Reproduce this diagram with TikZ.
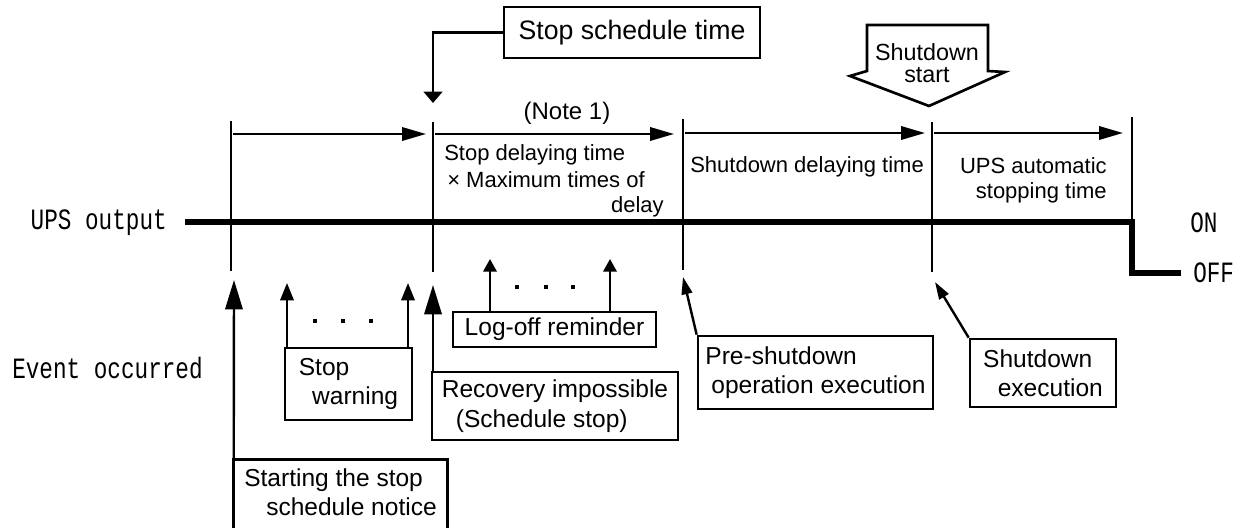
\documentclass[tikz,border=0pt]{standalone}
\usepackage{fontspec}
\setmainfont{Liberation Sans}
\setmonofont{Liberation Mono}
\usetikzlibrary{arrows.meta}

\begin{document}
\begin{tikzpicture}[x=0.75pt,y=-0.75pt,
  thinline/.style={line width=1.8pt},
  boxline/.style={line width=2pt},
  mainline/.style={line width=4.2pt,miter limit=10},
  harrow/.style={thinline,-{Triangle[length=18pt,width=10pt]}},
  downarrow/.style={thinline,-{Triangle[length=8.5pt,width=14pt]}},
  bigup/.style={thinline,-{Triangle[length=22pt,width=13pt]}},
  midup/.style={thinline,-{Triangle[length=13pt,width=10pt]}},
  smallup/.style={thinline,-{Triangle[length=9.5pt,width=10pt]}},
  diagarrow/.style={thinline,-{Triangle[length=13pt,width=8pt]}},
  evbox/.style={draw,boxline,align=left,inner sep=0pt,
    font=\fontsize{18.4}{22}\selectfont},
  spanlabel/.style={inner sep=0pt,font=\fontsize{16.5}{18.75}\selectfont},
  monolabel/.style={inner sep=0pt,font=\fontsize{17}{20}\ttfamily},
  dotmark/.style={fill=black}
]
\useasboundingbox (0,0) rectangle (1246,528);
\clip (0,0) rectangle (1246,528);

% ---- time marks on the output line ----
\coordinate (t1top) at (231,121);  \coordinate (t1bot) at (231,271);
\coordinate (t2top) at (433,122);  \coordinate (t2bot) at (433,272);
\coordinate (t3top) at (683,119);  \coordinate (t3bot) at (683,270);
\coordinate (t4top) at (932,122);  \coordinate (t4bot) at (932,272);
\coordinate (t5top) at (1132,117); \coordinate (t5on)  at (1132,222);
\foreach \i in {1,2,3,4} \draw[thinline] (t\i top) -- (t\i bot);
\draw[thinline] (t5top) -- (t5on);

% ---- UPS output level ----
\coordinate (outstart) at (185,222);
\coordinate (offcorner) at (1132,273);
\coordinate (offend) at (1181,273);
\draw[mainline] (outstart) -- (t5on) -- (offcorner) -- (offend);

\node[monolabel,anchor=east] (upsout) at (167,223) {\scalebox{1}[1.3]{UPS output}};
\node[monolabel,anchor=west] (evocc) at (12,368) {\scalebox{1}[1.3]{Event occurred}};
\node[monolabel,anchor=west] (onlbl) at (1190,223) {\scalebox{1}[1.3]{ON}};
\node[monolabel,anchor=west] (offlbl) at (1193,273) {\scalebox{1}[1.3]{OFF}};

% ---- span arrows ----
\coordinate (a1s) at (233,134);  \coordinate (a1e) at (426,134);
\coordinate (a2s) at (435,134);  \coordinate (a2e) at (674,134);
\coordinate (a3s) at (685,133);  \coordinate (a3e) at (925,133);
\coordinate (a4s) at (934,133);  \coordinate (a4e) at (1123,133);
\draw[harrow] (a1s) -- (a1e);
\draw[harrow] (a2s) -- (a2e);
\draw[harrow] (a3s) -- (a3e);
\draw[harrow] (a4s) -- (a4e);

\node[inner sep=0pt,font=\fontsize{18}{20}\selectfont] (note) at (567,113) {(Note 1)};
\node[spanlabel,anchor=west] (sdt1) at (444,155) {Stop delaying time};
\node[spanlabel,anchor=west] (sdt2) at (447,180) {× Maximum times of};
\node[spanlabel,anchor=east] (sdt3) at (664,207) {delay};
\node[spanlabel,anchor=west] (sdl) at (690,167) {Shutdown delaying time};
\node[spanlabel,anchor=east,align=right] (uas) at (1107,180) {UPS automatic\\stopping time};

% ---- stop schedule time ----
\node[draw,boxline,minimum width=192pt,minimum height=38.25pt,inner sep=0pt,
  font=\fontsize{20}{24}\selectfont] (sst) at (632,32.5) {Stop schedule time};
\coordinate (ssttip) at (433,103);
\draw[downarrow] (sst.west) -| (ssttip);

% ---- shutdown start block arrow ----
\draw[boxline,line join=miter] (867,25) -- (988,25) -- (988,71) -- (1005,72)
  -- (929,106) -- (850,76) -- (867,71) -- cycle;
\node[align=center,inner sep=0pt,font=\fontsize{17.5}{16.5}\selectfont] (sds) at (927,63) {Shutdown\\start};

% ---- events ----
\node[minimum width=159.75pt,minimum height=48.75pt,align=left,inner sep=0pt,
  font=\fontsize{18.4}{22}\selectfont] (start) at (340.5,492.5)
  {Starting the stop\\\hspace*{16.5pt}schedule notice};
\draw[boxline] ([yshift=-20pt]start.south west) -- (start.north west)
  -- (start.north east) -- ([yshift=-20pt]start.south east);
\coordinate (s1) at (234,280);
\draw[bigup] (start.north west) -- (s1);

\node[evbox,minimum width=95.25pt,minimum height=54pt] (warn) at (348.5,384)
  {Stop\\\hspace*{10pt}warning};
\coordinate (w1) at (287,283);
\coordinate (w2) at (408,283);
\draw[midup] (warn.north west -| w1) -- (w1);
\draw[midup] (warn.north west -| w2) -- (w2);
\foreach \x in {315,343,371} \fill[dotmark] (\x-2.2,321-2.2) rectangle (\x+2.2,321+2.2);

\node[evbox,minimum width=184.5pt,minimum height=51pt] (rec) at (555,406)
  {Recovery impossible\\\hspace*{10.5pt}(Schedule stop)};
\coordinate (r1) at (433,285);
\draw[bigup] (rec.north west -| r1) -- (r1);

\node[evbox,minimum width=152.25pt,minimum height=26.25pt] (log) at (554.5,329.5)
  {Log-off reminder};
\coordinate (l1) at (490,259);
\coordinate (l2) at (610,259);
\draw[smallup] (log.north west -| l1) -- (l1);
\draw[smallup] (log.north west -| l2) -- (l2);
\foreach \x in {517,546,573} \fill[dotmark] (\x-2.2,287-2.2) rectangle (\x+2.2,287+2.2);

\node[evbox,minimum width=176.25pt,minimum height=54.75pt] (pre) at (815.5,372.5)
  {Pre-shutdown\\\hspace*{4.5pt}operation execution};
\coordinate (p1) at (683,277);
\draw[diagarrow] (pre.north west) -- (p1);

\node[evbox,minimum width=109.5pt,minimum height=51pt] (sde) at (1043,373)
  {Shutdown\\\hspace*{11pt}execution};
\coordinate (e1) at (935,282);
\draw[diagarrow] (sde.north west) -- (e1);
\end{tikzpicture}
\end{document}
